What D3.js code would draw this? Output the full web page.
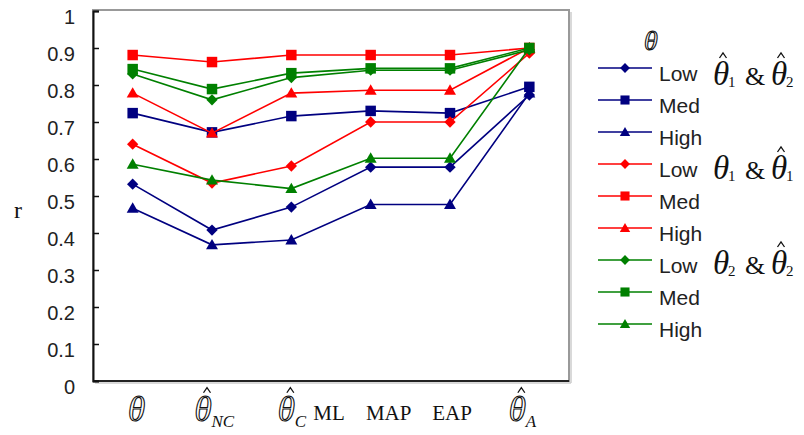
<!DOCTYPE html>
<html>
<head>
<meta charset="utf-8">
<script src="https://d3js.org/d3.v7.min.js"></script>
<style>
  body { margin: 0; background: #fff; }
  svg { display: block; }
  .tick text { font-family: "Liberation Sans", Arial, sans-serif; font-size: 20px; fill: #222; }
  .legend text { font-family: "Liberation Sans", Arial, sans-serif; font-size: 21px; fill: #222; }
  .serif { font-family: "Liberation Serif", "Times New Roman", serif; fill: #111; }
  svg text.outline { fill: #fff; stroke: #111; stroke-width: 1.1px; }
</style>
</head>
<body>
<div id="chart"></div>
<script>
// categories on the x axis
var categories = ["theta", "NC", "C", "MAP", "EAP", "A"];
var yTicks = [0, 0.1, 0.2, 0.3, 0.4, 0.5, 0.6, 0.7, 0.8, 0.9, 1];

// theta-hat1 & theta-hat2 (blue)
var blueLow  = [0.532, 0.408, 0.470, 0.578, 0.578, 0.773];
var blueMed  = [0.724, 0.672, 0.716, 0.730, 0.724, 0.795];
var blueHigh = [0.467, 0.368, 0.381, 0.477, 0.477, 0.778];
// theta1 & theta-hat1 (red)
var redLow  = [0.640, 0.535, 0.581, 0.700, 0.700, 0.886];
var redMed  = [0.881, 0.862, 0.881, 0.881, 0.881, 0.900];
var redHigh = [0.778, 0.670, 0.778, 0.786, 0.786, 0.900];
// theta2 & theta-hat2 (green)
var greenLow  = [0.830, 0.760, 0.820, 0.840, 0.840, 0.895];
var greenMed  = [0.843, 0.789, 0.832, 0.845, 0.845, 0.900];
var greenHigh = [0.586, 0.543, 0.520, 0.602, 0.602, 0.900];

var series = [
  {name: "Low",  color: "#000080", shape: "diamond",  values: blueLow},
  {name: "Med",  color: "#000080", shape: "square",   values: blueMed},
  {name: "High", color: "#000080", shape: "triangle", values: blueHigh},
  {name: "Low",  color: "#ff0000", shape: "diamond",  values: redLow},
  {name: "Med",  color: "#ff0000", shape: "square",   values: redMed},
  {name: "High", color: "#ff0000", shape: "triangle", values: redHigh},
  {name: "Low",  color: "#008000", shape: "diamond",  values: greenLow},
  {name: "Med",  color: "#008000", shape: "square",   values: greenMed},
  {name: "High", color: "#008000", shape: "triangle", values: greenHigh}
];

var width = 804, height = 435;
var plot = {left: 93, right: 569, top: 11, bottom: 381};

var svg = d3.select("#chart").append("svg")
    .attr("width", width)
    .attr("height", height);

var x = d3.scalePoint()
    .domain(categories)
    .range([plot.left, plot.right])
    .padding(0.5);

var y = d3.scaleLinear()
    .domain([0, 1])
    .range([plot.bottom, plot.top]);

// frame: grey top/right, black left/bottom
svg.append("rect")
    .attr("x", plot.left).attr("y", plot.top - 1)
    .attr("width", plot.right - plot.left).attr("height", plot.bottom - plot.top + 1)
    .attr("fill", "none").attr("stroke", "#999").attr("stroke-width", 2);
svg.append("line")
    .attr("x1", plot.left + 2).attr("x2", plot.right + 2)
    .attr("y1", plot.bottom + 2).attr("y2", plot.bottom + 2)
    .attr("stroke", "#ccc").attr("stroke-width", 1.5);
svg.append("line")
    .attr("x1", plot.right + 2).attr("x2", plot.right + 2)
    .attr("y1", plot.top + 1).attr("y2", plot.bottom + 2)
    .attr("stroke", "#ccc").attr("stroke-width", 1.5);
svg.append("line")
    .attr("x1", plot.left).attr("x2", plot.right)
    .attr("y1", plot.bottom).attr("y2", plot.bottom)
    .attr("stroke", "#222").attr("stroke-width", 2);

var yAxis = svg.append("g")
    .attr("transform", "translate(" + plot.left + ",0)")
    .call(d3.axisLeft(y)
      .tickValues(yTicks)
      .tickSize(-6)
      .tickPadding(18)
      .tickFormat(function(d) { return d === 0 ? "0" : d === 1 ? "1" : d3.format(".1f")(d); }));
yAxis.select(".domain").attr("stroke", "#111").attr("stroke-width", 2);
yAxis.selectAll(".tick line").attr("stroke", "#111").attr("stroke-width", 1.5);
yAxis.selectAll(".tick text").attr("dy", "0.62em");

svg.append("text")
    .attr("class", "serif")
    .attr("x", 14).attr("y", 218)
    .style("font-size", "24px")
    .text("r");

// markers
function markerPath(shape, k) {
  if (shape === "square") return d3.symbol(d3.symbolSquare, 110 * k)();
  if (shape === "triangle") return d3.symbol(d3.symbolTriangle, 62 * k)();
  return d3.symbol(d3.symbolSquare, 64 * k)();
}
function markerTransform(shape, cx, cy) {
  var t = "translate(" + cx + "," + cy + ")";
  if (shape === "diamond") t += " rotate(45)";
  if (shape === "triangle") t += " translate(0,1)";
  return t;
}

var line = d3.line()
    .x(function(d, i) { return x(categories[i]); })
    .y(function(d) { return y(d); });

var g = svg.selectAll(".series")
    .data(series)
  .enter().append("g")
    .attr("class", "series");

g.append("path")
    .attr("d", function(d) { return line(d.values); })
    .attr("fill", "none")
    .attr("stroke", function(d) { return d.color; })
    .attr("stroke-width", 1.6);

g.each(function(s) {
  d3.select(this).selectAll(".pt")
      .data(s.values)
    .enter().append("path")
      .attr("class", "pt")
      .attr("d", markerPath(s.shape, 1))
      .attr("transform", function(d, i) { return markerTransform(s.shape, x(categories[i]), y(d)); })
      .attr("fill", s.color);
});

// small circumflex drawn as a path
function hat(sel, cx, topY, w) {
  sel.append("path")
      .attr("d", "M" + (cx - w / 2) + "," + (topY + 5) + "L" + cx + "," + topY + "L" + (cx + w / 2) + "," + (topY + 5))
      .attr("fill", "none").attr("stroke", "#111").attr("stroke-width", 1.3);
}

// x labels: outlined theta (with hat and subscript) centred at cx, baseline base
function thetaLabel(cx, base, size, sub, hasHat) {
  var lg = svg.append("g").attr("transform", "translate(" + cx + "," + base + ")");
  lg.append("text").attr("class", "serif outline")
      .attr("text-anchor", "middle")
      .style("font-size", size + "px").style("font-style", "italic")
      .text("θ");
  if (hasHat) hat(lg, 4, -size * 0.95, 7);
  if (sub) {
    lg.append("text").attr("class", "serif")
        .attr("x", size * 0.24).attr("y", 6)
        .style("font-size", "17px")
        .style("font-style", "italic")
        .text(sub);
  }
  return lg;
}

thetaLabel(x("theta") + 4, 421, 35, null, false);
thetaLabel(x("NC") - 9, 421, 35, "NC", true);
thetaLabel(x("C") - 5, 421, 35, "C", true);
svg.append("text").attr("class", "serif")
    .attr("x", x("C") + 22).attr("y", 420)
    .style("font-size", "21px").text("ML");
svg.append("text").attr("class", "serif")
    .attr("x", x("MAP") + 18).attr("y", 420)
    .attr("text-anchor", "middle")
    .style("font-size", "21px").text("MAP");
svg.append("text").attr("class", "serif")
    .attr("x", x("EAP") + 2).attr("y", 420)
    .attr("text-anchor", "middle")
    .style("font-size", "21px").text("EAP");
thetaLabel(x("A") - 12, 421, 35, "A", true);

// legend header
svg.append("text").attr("class", "serif outline")
    .attr("x", 651).attr("y", 50)
    .attr("text-anchor", "middle")
    .style("font-size", "28px").style("font-style", "italic")
    .text("θ");

// legend
var legend = svg.append("g").attr("class", "legend");
var rowY = d3.scaleLinear().domain([0, 1]).range([68, 100]);

var rows = legend.selectAll(".row")
    .data(series)
  .enter().append("g")
    .attr("class", "row")
    .attr("transform", function(d, i) { return "translate(0," + rowY(i) + ")"; });

rows.append("line")
    .attr("x1", 598).attr("x2", 652)
    .attr("stroke", function(d) { return d.color; })
    .attr("stroke-width", 1.6);
rows.append("path")
    .attr("d", function(d) { return markerPath(d.shape, 0.75); })
    .attr("transform", function(d) { return markerTransform(d.shape, 625, 0); })
    .attr("fill", function(d) { return d.color; });
rows.append("text")
    .attr("x", 659).attr("y", 13)
    .text(function(d) { return d.name; });

// group labels: theta pairs
function pairLabel(x0, base, hat1, sub1, hat2, sub2) {
  var pg = svg.append("g").attr("transform", "translate(" + x0 + "," + base + ")");
  function one(px, hasHat, sub) {
    pg.append("text").attr("class", "serif")
        .attr("x", px).style("font-size", "33px").style("font-style", "italic")
        .text("θ");
    if (hasHat) hat(pg, px + 10, -32, 7);
    pg.append("text").attr("class", "serif")
        .attr("x", px + 15).attr("y", 2)
        .style("font-size", "15px").text(sub);
  }
  one(-1, hat1, sub1);
  pg.append("text").attr("class", "serif")
      .attr("x", 31).style("font-size", "26px").text("&");
  one(57, hat2, sub2);
}
pairLabel(714, 85, true, "1", true, "2");
pairLabel(714, 179, false, "1", true, "1");
pairLabel(714, 274, false, "2", true, "2");
</script>
</body>
</html>
